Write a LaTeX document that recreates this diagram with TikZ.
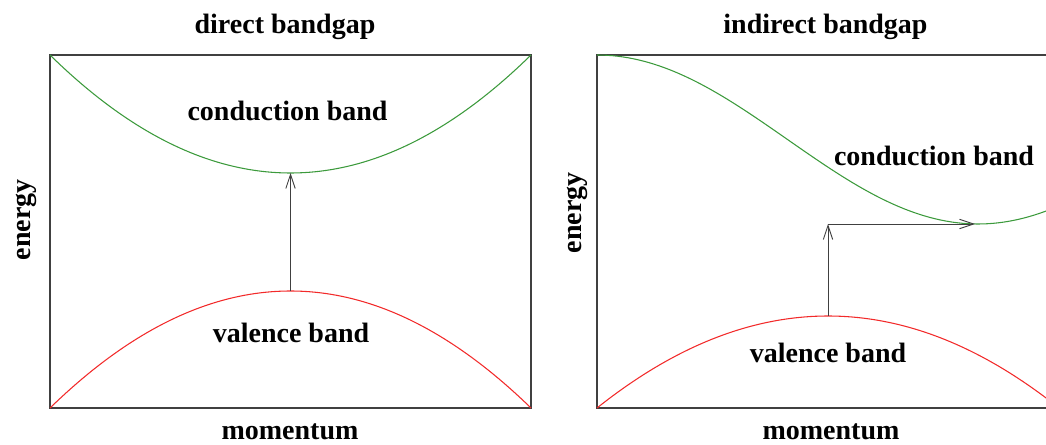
\documentclass[tikz,border=0pt]{standalone}
\usepackage{fontspec}
\setmainfont{Liberation Serif}
\usetikzlibrary{arrows.meta}
\definecolor{condgreen}{HTML}{3C9A3C}
\definecolor{valred}{HTML}{F22A2A}
\tikzset{
    plotframe/.style={draw=black!75, line width=1.1pt},
    condcurve/.style={draw=condgreen, line width=0.8pt},
    valcurve/.style={draw=valred, line width=0.8pt},
    arrow/.style={-{Straight Barb[length=10.5pt,width=7pt]}, draw=black!75, line width=0.7pt},
    lbl/.style={anchor=base, inner sep=0pt, font=\fontsize{21}{25}\selectfont\bfseries}
}
\begin{document}
\begin{tikzpicture}[x=0.75pt, y=-0.75pt]
    \useasboundingbox (0,0) rectangle (1046,445);

    % direct bandgap
    \draw[plotframe] (50,55) rectangle (531,408);
    \draw[condcurve] plot[domain=50:531, samples=90] (\x, {173-118*((\x-290.5)/240.5)*((\x-290.5)/240.5)});
    \draw[valcurve] plot[domain=50:531, samples=90] (\x, {291+117*((\x-290.5)/240.5)*((\x-290.5)/240.5)});
    \coordinate (vtopL) at (290.5,291);
    \coordinate (cbotL) at (290.5,173);
    \draw[arrow] (vtopL) -- (cbotL);

    \node[lbl] (titleL) at (285,34) {direct bandgap};
    \node[lbl] (condL) at (287.5,121) {conduction band};
    \node[lbl] (valL) at (291,343) {valence band};
    \node[lbl] (momL) at (290,439) {momentum};
    \node[lbl, rotate=90] (enL) at (30,220) {energy};

    % indirect bandgap
    \begin{scope}
        \clip (0,0) rectangle (1046,445);
        \draw[plotframe] (1070,55) -- (597,55) -- (597,408) -- (1070,408);
        \draw[condcurve] plot[domain=597:1060, samples=90] (\x, {55+84.5*(1-cos(0.47244*(\x-597)))});
        \draw[valcurve] plot[domain=597:1060, samples=90] (\x, {316+92*((\x-828)/231)*((\x-828)/231)});
    \end{scope}
    \coordinate (vtopR) at (828,316);
    \coordinate (kinkR) at (828,224);
    \coordinate (cminR) at (975,224);
    \draw[arrow] (vtopR) -- (kinkR);
    \draw[arrow] (kinkR) -- (cminR);

    \node[lbl] (titleR) at (825.5,34) {indirect bandgap};
    \node[lbl] (condR) at (934,166) {conduction band};
    \node[lbl] (valR) at (828,362) {valence band};
    \node[lbl] (momR) at (831,439) {momentum};
    \node[lbl, rotate=90] (enR) at (581,213) {energy};
\end{tikzpicture}
\end{document}
